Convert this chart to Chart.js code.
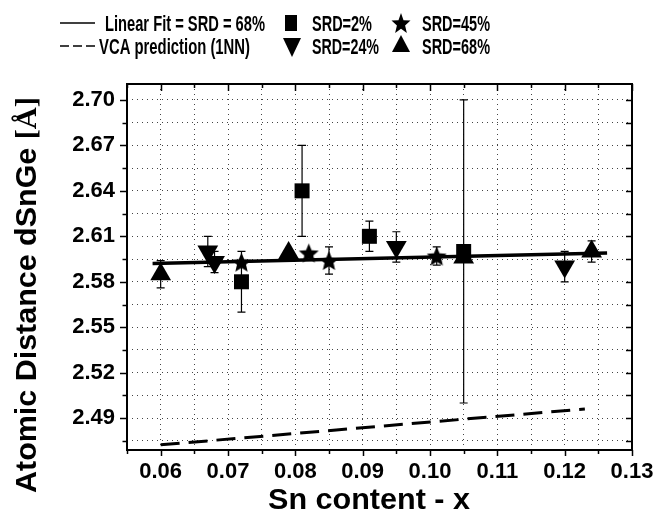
<!DOCTYPE html>
<html><head><meta charset="utf-8">
<script src="https://cdn.jsdelivr.net/npm/chart.js@4.4.0/dist/chart.umd.min.js"></script>
<style>html,body{margin:0;padding:0;background:#fff;}#wrap{width:671px;height:513px;position:relative;}</style>
</head><body><div id="wrap"><canvas id="c" width="671" height="513"></canvas></div>
<script>
// ---- data ----
const srd2X = [0.072, 0.081, 0.091, 0.105];
const srd2Y = [2.580, 2.640, 2.610, 2.600];
const srd2Err = [0.020, 0.030, 0.010, 0.100];
const srd24X = [0.067, 0.068, 0.095, 0.120];
const srd24Y = [2.600, 2.593, 2.603, 2.590];
const srd24Err = [0.010, 0.007, 0.010, 0.010];
const srd45X = [0.072, 0.082, 0.085, 0.101];
const srd45Y = [2.593, 2.599, 2.594, 2.597];
const srd45Err = [0.000, 0.000, 0.009, 0.006];
const srd68X = [0.060, 0.079, 0.105, 0.124];
const srd68Y = [2.585, 2.599, 2.596, 2.600];
const srd68Err = [0.009, 0.000, 0.000, 0.007];
const fitX = [0.0588, 0.1263];
const fitY = [2.592, 2.599];
const vcaX = [0.060, 0.123];
const vcaY = [2.4724, 2.4961];
const xTickLabels = ['0.06','0.07','0.08','0.09','0.10','0.11','0.12','0.13'];
const yTickLabels = ['2.49','2.52','2.55','2.58','2.61','2.64','2.67','2.70'];
const legendTexts = ['Linear Fit = SRD = 68%','VCA prediction (1NN)','SRD=2%','SRD=24%','SRD=45%','SRD=68%'];
const xTitle = 'Sn content - x';
const yTitleMain = 'Atomic Distance dSnGe ';
const yTitleUnit = '[\u00C5]';

const pts = (xs, ys) => xs.map((x, i) => ({x, y: ys[i]}));

function starPath(g, cx, cy, r, rin, sy) {
  g.beginPath();
  for (let i = 0; i < 10; i++) {
    const rr = i % 2 ? rin : r;
    const a = -Math.PI / 2 + i * Math.PI / 5;
    g.lineTo(cx + rr * Math.cos(a), cy + rr * Math.sin(a) * (sy || 1));
  }
  g.closePath();
}
function makeStar(r) {
  const c = document.createElement('canvas');
  const s = Math.ceil(2 * r + 2);
  c.width = s; c.height = s;
  const g = c.getContext('2d');
  g.fillStyle = '#000';
  starPath(g, s / 2, s / 2 + r * 0.1, r, r * 0.45);
  g.fill();
  return c;
}
const starImg = makeStar(10.5);

const errSets = [
  {x: srd2X, y: srd2Y, e: srd2Err},
  {x: srd24X, y: srd24Y, e: srd24Err},
  {x: srd45X, y: srd45Y, e: srd45Err},
  {x: srd68X, y: srd68Y, e: srd68Err}
];

const SANS = '"Liberation Sans", Arial, sans-serif';
const SERIF = '"Liberation Serif", "Times New Roman", serif';

function fitText(ctx, txt, x0, x1, yb, font) {
  ctx.font = font;
  const w = ctx.measureText(txt).width;
  ctx.save();
  ctx.translate(x0, yb);
  ctx.scale((x1 - x0) / w, 1);
  ctx.textAlign = 'left';
  ctx.textBaseline = 'alphabetic';
  ctx.fillText(txt, 0, 0);
  ctx.restore();
}

const isMajor = (v, step) => Math.abs(Math.round(v * 1000) % step) < 0.5;

const decor = {
  id: 'decor',
  afterDatasetsDraw(chart) {
    const {ctx, scales: {x, y}} = chart;
    ctx.save();
    ctx.strokeStyle = '#000';
    ctx.lineWidth = 1.2;
    errSets.forEach(s => {
      s.x.forEach((xv, i) => {
        const e = s.e[i];
        if (!e) return;
        const px = x.getPixelForValue(xv);
        const p1 = y.getPixelForValue(s.y[i] + e);
        const p2 = y.getPixelForValue(s.y[i] - e);
        ctx.beginPath();
        ctx.moveTo(px, p1); ctx.lineTo(px, p2);
        ctx.moveTo(px - 4, p1); ctx.lineTo(px + 4, p1);
        ctx.moveTo(px - 4, p2); ctx.lineTo(px + 4, p2);
        ctx.stroke();
      });
    });
    ctx.restore();
  },
  afterDraw(chart) {
    const {ctx, chartArea: a, scales: {x, y}} = chart;
    ctx.save();
    ctx.strokeStyle = '#000';
    ctx.fillStyle = '#000';
    ctx.lineWidth = 1.5;
    const ln = (x1, y1, x2, y2) => { ctx.beginPath(); ctx.moveTo(x1, y1); ctx.lineTo(x2, y2); ctx.stroke(); };
    x.ticks.forEach(t => {
      const px = Math.round(x.getPixelForValue(t.value)) + 0.5;
      const maj = isMajor(t.value, 10);
      ln(px, a.bottom, px, a.bottom + (maj ? 6 : 4));
      ln(px, a.top, px, a.top + (maj ? 7 : 4));
    });
    y.ticks.forEach(t => {
      const py = Math.round(y.getPixelForValue(t.value)) + 0.5;
      const maj = isMajor(t.value, 30);
      ln(a.left - (maj ? 7 : 4.5), py, a.left, py);
      ln(a.right - 6, py, a.right, py);
    });
    ctx.lineWidth = 2;
    ctx.strokeRect(a.left, a.top, a.right - a.left, a.bottom - a.top);

    // axis titles
    fitText(ctx, xTitle, 268, 470, 509, 'bold 29px ' + SANS);
    ctx.save();
    ctx.translate(36, 493);
    ctx.rotate(-Math.PI / 2);
    ctx.font = 'bold 30px ' + SANS;
    const w1 = ctx.measureText(yTitleMain).width;
    ctx.font = 'bold 30px ' + SERIF;
    const w2 = ctx.measureText(yTitleUnit).width;
    const sc = 396 / (w1 + w2);
    ctx.scale(sc, 1);
    ctx.textBaseline = 'alphabetic';
    ctx.font = 'bold 30px ' + SANS;
    ctx.fillText(yTitleMain, 0, 0);
    ctx.font = 'bold 30px ' + SERIF;
    ctx.fillText(yTitleUnit, w1, 0);
    ctx.restore();

    // legend
    const r1 = 23, r2 = 46;
    const lf = 'bold 22px ' + SANS;
    ctx.lineWidth = 1.5;
    ln(60, r1, 95, r1);
    ctx.save(); ctx.setLineDash([9, 4]); ln(60, r2, 97, r2); ctx.restore();
    fitText(ctx, legendTexts[0], 105, 265, r1 + 8, lf);
    fitText(ctx, legendTexts[1], 99, 250, r2 + 8, lf);
    fitText(ctx, legendTexts[2], 312, 372, r1 + 8, lf);
    fitText(ctx, legendTexts[3], 312, 379, r2 + 8, lf);
    fitText(ctx, legendTexts[4], 422, 490, r1 + 8, lf);
    fitText(ctx, legendTexts[5], 422, 490, r2 + 8, lf);
    // symbols
    ctx.fillRect(285, r1 - 8, 12, 16);
    starPath(ctx, 401, r1 + 1, 10, 4.3, 1.1); ctx.fill();
    ctx.beginPath(); ctx.moveTo(283, r2 - 8); ctx.lineTo(301, r2 - 8); ctx.lineTo(292, r2 + 11); ctx.closePath(); ctx.fill();
    ctx.beginPath(); ctx.moveTo(401, r2 - 11); ctx.lineTo(410, r2 + 6); ctx.lineTo(392, r2 + 6); ctx.closePath(); ctx.fill();
    ctx.restore();
  }
};

const gridOpt = {color: '#444', lineWidth: 1, drawTicks: false};

new Chart(document.getElementById('c'), {
  type: 'scatter',
  data: {
    datasets: [
      {label: 'Linear Fit = SRD = 68%', type: 'line', data: pts(fitX, fitY), borderColor: '#000', borderWidth: 3.5, pointRadius: 0, fill: false, tension: 0},
      {label: 'VCA prediction (1NN)', type: 'line', data: pts(vcaX, vcaY), borderColor: '#000', borderWidth: 3, borderDash: [19, 9], pointRadius: 0, fill: false, tension: 0},
      {label: 'SRD=2%', data: pts(srd2X, srd2Y), pointStyle: 'rect', pointRadius: 10.6, backgroundColor: '#000', borderColor: '#000', borderWidth: 0},
      {label: 'SRD=24%', data: pts(srd24X, srd24Y), pointStyle: 'triangle', rotation: 180, pointRadius: 12, backgroundColor: '#000', borderColor: '#000', borderWidth: 0},
      {label: 'SRD=45%', data: pts(srd45X, srd45Y), pointStyle: starImg, pointRadius: 10.5, backgroundColor: '#000', borderColor: '#000'},
      {label: 'SRD=68%', data: pts(srd68X, srd68Y), pointStyle: 'triangle', pointRadius: 12, backgroundColor: '#000', borderColor: '#000', borderWidth: 0}
    ]
  },
  options: {
    responsive: false,
    animation: false,
    devicePixelRatio: 1,
    layout: {padding: {top: 84, right: 39, left: 0, bottom: 0}},
    plugins: {legend: {display: false}, tooltip: {enabled: false}},
    scales: {
      x: {
        type: 'linear', min: 0.055, max: 0.13,
        afterFit: s => { s.height = 63; },
        grid: gridOpt,
        border: {display: false, dash: [1, 4]},
        ticks: {
          stepSize: 0.005, includeBounds: false, autoSkip: false, maxRotation: 0,
          padding: 9, color: '#000', font: {family: SANS, size: 22, weight: 'bold'},
          callback: v => { const i = Math.round((v - 0.06) / 0.01); return isMajor(v, 10) && xTickLabels[i] ? xTickLabels[i] : ''; }
        }
      },
      y: {
        type: 'linear', min: 2.469, max: 2.7105,
        afterFit: s => { s.width = 127; },
        grid: gridOpt,
        border: {display: false, dash: [1, 4]},
        ticks: {
          stepSize: 0.015, includeBounds: false, autoSkip: false,
          padding: 12, color: '#000', font: {family: SANS, size: 22, weight: 'bold'},
          callback: v => { const i = Math.round((v - 2.49) / 0.03); return isMajor(v, 30) && yTickLabels[i] ? yTickLabels[i] : ''; }
        }
      }
    }
  },
  plugins: [decor]
});
</script>
</body></html>
